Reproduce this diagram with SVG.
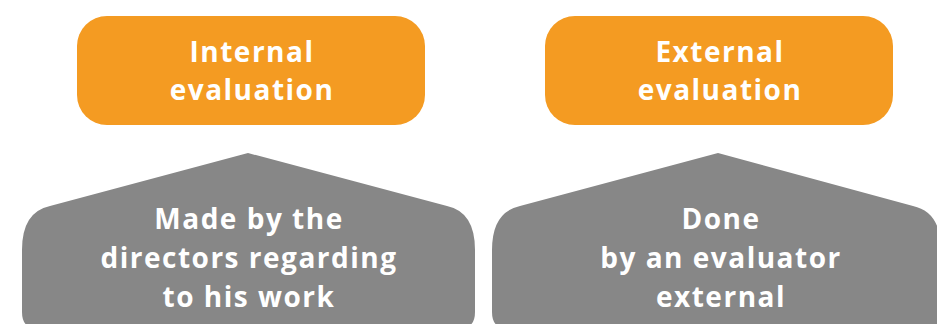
<svg xmlns="http://www.w3.org/2000/svg" width="937" height="324" viewBox="0 0 937 324">
  <style>
    .head { fill: #F49B22; }
    .body { fill: #878787; }
    .label { fill: #FFFFFF; font-family: "Open Sans", "Liberation Sans", sans-serif; font-weight: 700; font-size: 28px; letter-spacing: 1.5px; text-anchor: middle; }
  </style>
  <rect width="937" height="324" fill="#FFFFFF"/>

  <g id="internal-evaluation">
    <rect class="head" x="77" y="16" width="348" height="109" rx="30" ry="30"/>
    <text class="label" x="252" y="62">Internal</text>
    <text class="label" x="252" y="100">evaluation</text>
  </g>

  <g id="external-evaluation">
    <rect class="head" x="545" y="16" width="348" height="109" rx="30" ry="30"/>
    <text class="label" x="720" y="62">External</text>
    <text class="label" x="720" y="100">evaluation</text>
  </g>

  <g id="internal-detail">
    <path class="body" d="M248,153 L447,206 Q475,212 475,250 L475,312 Q475,328 461,328 L36,328 Q22,328 22,312 L22,250 Q22,212 50,206 Z"/>
    <text class="label" x="249" y="229">Made by the</text>
    <text class="label" x="249" y="268">directors regarding</text>
    <text class="label" x="249" y="307">to his work</text>
  </g>

  <g id="external-detail">
    <path class="body" d="M718,153 L913,206 Q941,212 941,250 L941,312 Q941,328 927,328 L506,328 Q492,328 492,312 L492,250 Q492,212 520,206 Z"/>
    <text class="label" x="721" y="229">Done</text>
    <text class="label" x="721" y="268">by an evaluator</text>
    <text class="label" x="721" y="307">external</text>
  </g>

  <g id="connectors"/>
</svg>
